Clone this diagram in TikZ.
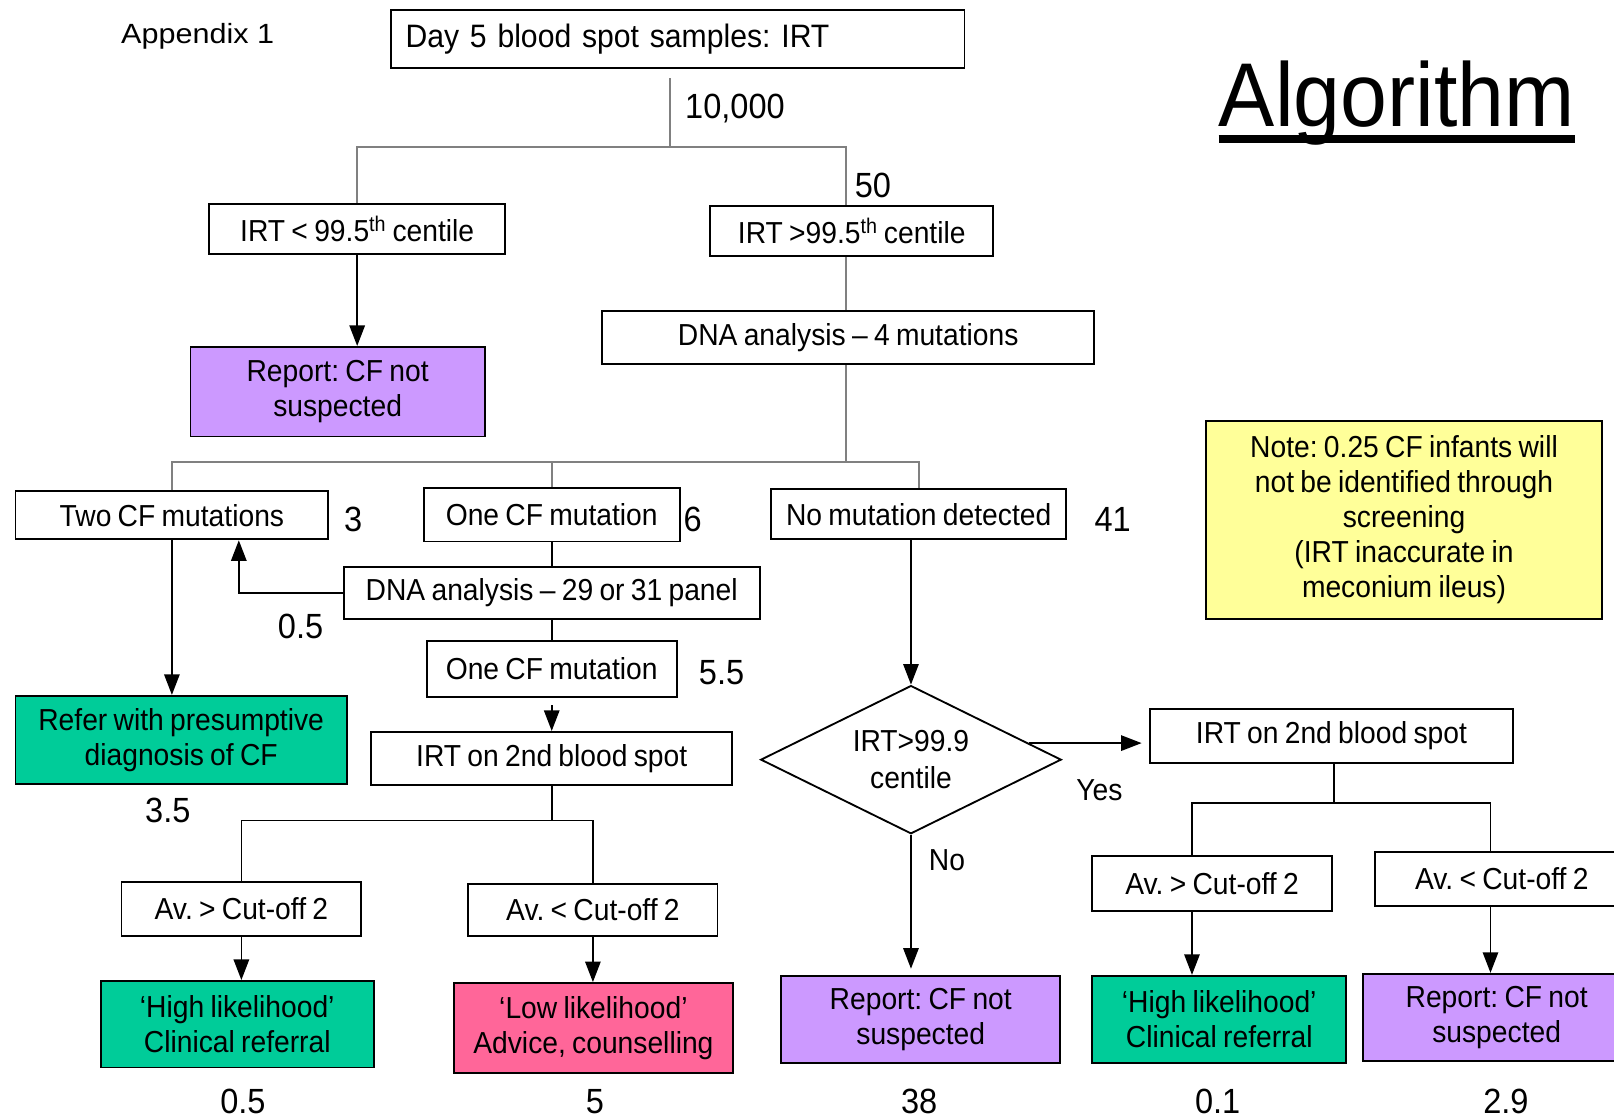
\documentclass[tikz,border=0pt]{standalone}
\usepackage{fontspec}
\setmainfont{Liberation Sans}[FakeStretch=0.93,WordSpace=0.8]
\newfontfamily\widefont{Liberation Sans}[FakeStretch=1.1]
\usetikzlibrary{arrows.meta,shapes.geometric}
\definecolor{reportpurple}{HTML}{CC99FF}
\definecolor{refergreen}{HTML}{00CC99}
\definecolor{lowpink}{HTML}{FF6699}
\definecolor{noteyellow}{HTML}{FFFF99}
\definecolor{linkgray}{HTML}{808080}
\frenchspacing
\tikzset{
  box/.style 2 args={draw, line width=1.8pt, inner sep=0pt, align=center,
    minimum width=#1pt, minimum height=#2pt, font=\fontsize{29.5}{34}\selectfont},
  num/.style={inner sep=0pt, font=\fontsize{34}{36}\selectfont},
  word/.style={inner sep=0pt, font=\fontsize{29.5}{34}\selectfont},
  link/.style={line width=1.6pt},
  grayline/.style={line width=2.2pt, draw=linkgray},
  flow/.style={line width=1.6pt, -{Triangle[length=20pt,width=15pt]}},
}
\begin{document}
\begin{tikzpicture}[x=1pt,y=-1pt]
    \useasboundingbox (0,0) rectangle (1568,1087);

    % Titulos
    \node[inner sep=0pt, font=\widefont\fontsize{27}{30}\selectfont] (appx) at (192,35) {Appendix 1};
    \node[inner sep=0pt, anchor=base, font=\fontsize{88}{90}\selectfont] (algo) at (1357,123) {Algorithm};
    \draw[line width=7pt] ([yshift=-12pt]algo.base west) -- ([yshift=-12pt]algo.base east);

    % Primer nivel
    \node[box={557}{56}, text width=529pt, align=left, font=\fontsize{31.5}{36}\selectfont] (day5) at (658.5,38) {Day 5 blood spot samples: IRT};
    \node[box={288}{49}] (irtlow) at (347,222.5) {IRT < 99.5\textsuperscript{th} centile};
    \node[box={286}{87}, fill=reportpurple] (notsusp1) at (328,380.5) {Report: CF not\\suspected};
    \node[box={275}{49}] (irthigh) at (827.5,224.5) {IRT >99.5\textsuperscript{th} centile};
    \node[box={478}{52}] (dnafour) at (824,328) {DNA analysis – 4 mutations};

    % Mutaciones
    \node[box={304}{47}] (twocf) at (167,500.5) {Two CF mutations};
    \node[box={249}{52}] (onecf) at (536,500) {One CF mutation};
    \node[box={287}{49}] (nomut) at (892.5,499.5) {No mutation detected};
    \node[box={384}{192}, fill=noteyellow] (note) at (1364,505) {Note: 0.25 CF infants will\\not be identified through\\screening\\(IRT inaccurate in\\meconium ileus)};

    % Rama izquierda
    \node[box={404}{50}] (dnapanel) at (536,576) {DNA analysis – 29 or 31 panel};
    \node[box={243}{54}] (onecfb) at (536,650) {One CF mutation};
    \node[box={351}{52}] (spotleft) at (536,737) {IRT on 2nd blood spot};
    \node[box={322}{86}, fill=refergreen] (refer) at (176,719) {Refer with presumptive\\diagnosis of CF};
    \node[box={233}{52}] (avhighl) at (234.5,883) {Av. > Cut-off 2};
    \node[box={242}{50}] (avlowl) at (576,884) {Av. < Cut-off 2};
    \node[box={265}{84}, fill=refergreen] (highl) at (230.5,995) {‘High likelihood’\\Clinical referral};
    \node[box={271}{87}, fill=lowpink] (lowl) at (576.5,998.5) {‘Low likelihood’\\Advice, counselling};

    % Rama derecha
    \node[draw, diamond, aspect=2, line width=1.8pt, inner sep=0pt, minimum width=292pt, minimum height=144pt,
      align=center, font=\fontsize{29.5}{36}\selectfont] (irtcheck) at (885,738) {IRT>99.9\\centile};
    \node[box={353}{52}] (spotright) at (1293.5,715) {IRT on 2nd blood spot};
    \node[box={271}{85}, fill=reportpurple] (notsusp2) at (894.5,990.5) {Report: CF not\\suspected};
    \node[box={233}{53}] (avhighr) at (1177.5,858.5) {Av. > Cut-off 2};
    \node[box={246}{52}] (avlowr) at (1459,854) {Av. < Cut-off 2};
    \node[box={247}{85}, fill=refergreen] (highr) at (1184.5,990.5) {‘High likelihood’\\Clinical referral};
    \node[box={260}{85}, fill=reportpurple] (notsusp3) at (1454,988.5) {Report: CF not\\suspected};

    % Uniones
    \coordinate (split) at (651,143);
    \coordinate (rightcol) at (822,143);
    \coordinate (mutsplit) at (822,449);
    \coordinate (back) at (232,576);
    \coordinate (leftsplit) at (536,797);
    \coordinate (rightsplit) at (1296,780);
    \coordinate (rsl) at (1158,780);
    \coordinate (rsr) at (1448,780);

    % Lineas grises
    \draw[grayline, shorten <=9pt] (day5.south -| split) -- (split);
    \draw[grayline] (irtlow.north) |- (rightcol) -- (rightcol |- irthigh.north);
    \draw[grayline] (rightcol |- irthigh.south) -- (rightcol |- dnafour.north);
    \draw[grayline] (rightcol |- dnafour.south) -- (mutsplit);
    \draw[grayline] (twocf.north) |- (mutsplit) -| (nomut.north);
    \draw[grayline] (onecf.north |- mutsplit) -- (onecf.north);

    % Flechas izquierda
    \draw[flow] (irtlow.south) -- (irtlow.south |- notsusp1.north);
    \draw[flow] (twocf.south) -- (twocf.south |- refer.north);
    \draw[link] (onecf.south) -- (dnapanel.north);
    \draw[flow] (dnapanel.west) -- (back) -- (back |- twocf.south);
    \draw[link] (dnapanel.south) -- (onecfb.north);
    \draw[flow, shorten <=7pt] (onecfb.south) -- (spotleft.north);
    \draw[link] (spotleft.south) -- (leftsplit);
    \draw[link] (avhighl.north) |- (leftsplit) -| (avlowl.north);
    \draw[flow] (avhighl.south) -- (avhighl.south |- highl.north);
    \draw[flow] (avlowl.south) -- (avlowl.south |- lowl.north);

    % Flechas derecha
    \draw[flow] (nomut.south -| irtcheck.north) -- (irtcheck.north);
    \draw[flow, shorten >=7pt] (irtcheck.8) -- (irtcheck.8 -| spotright.west);
    \draw[flow, shorten >=6pt] (irtcheck.south) -- (irtcheck.south |- notsusp2.north);
    \draw[link] (spotright.south -| rightsplit) -- (rightsplit);
    \draw[link] (rsl |- avhighr.north) -- (rsl) -- (rsr) -- (rsr |- avlowr.north);
    \draw[flow] (rsl |- avhighr.south) -- (rsl |- highr.north);
    \draw[flow] (rsr |- avlowr.south) -- (rsr |- notsusp3.north);

    % Etiquetas
    \node[word] (yes) at (1068,768) {Yes};
    \node[word] (no) at (920,836) {No};
    \foreach \x/\y/\val [count=\i] in {
        714/105/{10,000}, 848/180/50, 343/505/3, 673/505/6, 1081/505/41,
        292/609/0.5, 701/653/5.5, 163/787/3.5,
        236/1070/0.5, 578/1070/5, 893/1070/38, 1183/1070/0.1, 1463/1070/2.9
        } {
        \node[num] (count\i) at (\x,\y) {\val};
    }
\end{tikzpicture}
\end{document}
